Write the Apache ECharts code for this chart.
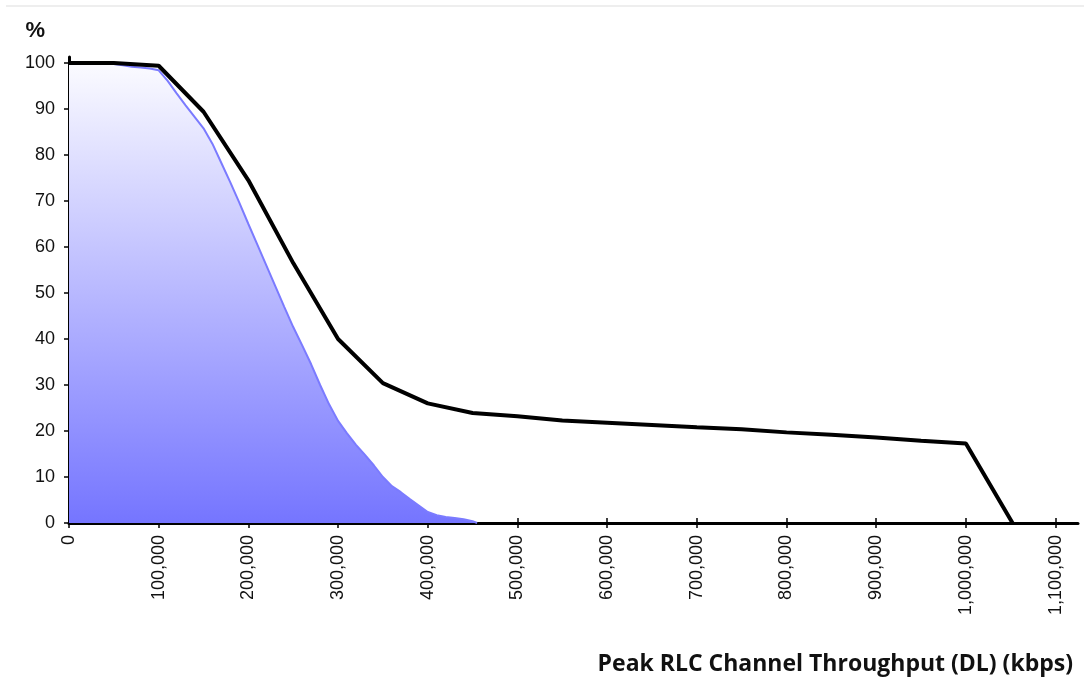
<!DOCTYPE html>
<html>
<head>
<meta charset="utf-8">
<script src="https://cdn.jsdelivr.net/npm/echarts@6/dist/echarts.min.js"></script>
<style>
  html, body { margin: 0; padding: 0; background: #fff; }
  #chart { width: 1084px; height: 678px; }
</style>
</head>
<body>
<div id="chart"></div>
<script>
// throughput (kbps) / percent of samples above that throughput
var peakX = [0, 50000, 100000, 150000, 200000, 250000, 300000, 350000, 400000, 450000,
  500000, 550000, 600000, 650000, 700000, 750000, 800000, 850000, 900000, 950000,
  1000000, 1052000];
var peakY = [100, 100, 99.4, 89.4, 74.5, 56.5, 40, 30.4, 26, 23.9,
  23.2, 22.3, 21.8, 21.3, 20.8, 20.4, 19.7, 19.2, 18.6, 17.9,
  17.3, 0];

var blueX = [0, 10000, 20000, 30000, 40000, 50000, 60000, 70000, 80000, 90000,
  100000, 110000, 120000, 130000, 140000, 150000, 160000, 170000, 180000, 190000,
  200000, 210000, 220000, 230000, 240000, 250000, 260000, 270000, 280000, 290000,
  300000, 310000, 320000, 330000, 340000, 350000, 360000, 370000, 380000, 390000,
  400000, 410000, 420000, 430000, 440000, 450000, 455000];
var blueY = [100, 100, 100, 100, 100, 99.8, 99.5, 99.2, 99, 98.8,
  98.4, 96.1, 93.4, 90.8, 88.3, 85.8, 82.4, 78.2, 74, 69.6,
  65, 60.5, 56, 51.5, 47, 42.6, 38.6, 34.5, 30, 25.8,
  22.2, 19.5, 17, 14.8, 12.5, 10, 8, 6.7, 5.2, 3.8,
  2.4, 1.7, 1.3, 1.1, 0.8, 0.4, 0];

var xTicks = [0, 100000, 200000, 300000, 400000, 500000, 600000, 700000, 800000, 900000, 1000000, 1100000];
var yTicks = [0, 10, 20, 30, 40, 50, 60, 70, 80, 90, 100];

function pairs(xs, ys) {
  var out = [];
  for (var i = 0; i < xs.length; i++) out.push([xs[i], ys[i]]);
  return out;
}

var chart = echarts.init(document.getElementById('chart'));
var labelFont = { fontFamily: 'Liberation Sans', fontSize: 18, color: '#111' };

var option = {
  animation: false,
  backgroundColor: '#fff',
  grid: { left: 69, right: 6, top: 57, bottom: 155, containLabel: false },
  title: {
    text: 'Peak RLC Channel Throughput (DL) (kbps)',
    right: 6,
    top: 648,
    textStyle: { fontFamily: 'Open Sans', fontWeight: 'bold', fontSize: 23, color: '#111' }
  },
  graphic: [{
    type: 'line',
    shape: { x1: 6, y1: 6, x2: 1084, y2: 6 },
    style: { stroke: '#eeeeee', lineWidth: 2 }
  }],
  xAxis: [{
    type: 'value', min: 0, max: 1125000,
    axisLine: { show: true, lineStyle: { color: '#000', width: 3 } },
    axisTick: { show: true, length: 5, lineStyle: { color: '#000', width: 1.5 }, customValues: xTicks },
    axisLabel: Object.assign({
      rotate: 90, margin: 12, customValues: xTicks,
      formatter: function (v) { return v.toLocaleString('en-US'); }
    }, labelFont),
    splitLine: { show: false }
  }, {
    type: 'value', min: 0, max: 1125000, position: 'bottom',
    axisLine: { show: false },
    axisTick: { show: true, inside: true, length: 5, lineStyle: { color: '#000', width: 1.5 }, customValues: xTicks },
    axisLabel: { show: false },
    splitLine: { show: false }
  }],
  yAxis: [{
    type: 'value', min: 0, max: 101.3,
    name: '%',
    nameLocation: 'end',
    nameGap: 15,
    nameTextStyle: {
      fontFamily: 'Liberation Sans', fontWeight: 'bold', fontSize: 22, color: '#111',
      align: 'right', verticalAlign: 'bottom', padding: [0, 24, 0, 0]
    },
    axisLine: { show: true, lineStyle: { color: '#000', width: 3 } },
    axisTick: { show: true, length: 5, lineStyle: { color: '#000', width: 1.5 }, customValues: yTicks },
    axisLabel: Object.assign({ margin: 14, customValues: yTicks }, labelFont),
    splitLine: { show: false }
  }, {
    type: 'value', min: 0, max: 101.3, position: 'left',
    axisLine: { show: false },
    axisTick: { show: true, inside: true, length: 4, lineStyle: { color: '#000', width: 1.5 }, customValues: yTicks },
    axisLabel: { show: false },
    splitLine: { show: false }
  }],
  series: [{
    name: 'distribution',
    type: 'line',
    data: pairs(blueX, blueY),
    symbol: 'none',
    z: 2,
    lineStyle: { color: '#7b7bff', width: 2 },
    areaStyle: {
      opacity: 1,
      color: new echarts.graphic.LinearGradient(0, 0, 0, 1, [
        { offset: 0, color: '#fbfbff' },
        { offset: 1, color: '#7575ff' }
      ])
    }
  }, {
    name: 'peak',
    type: 'line',
    data: pairs(peakX, peakY),
    symbol: 'none',
    z: 3,
    lineStyle: { color: '#000', width: 4 }
  }]
};

chart.setOption(option);
</script>
</body>
</html>
